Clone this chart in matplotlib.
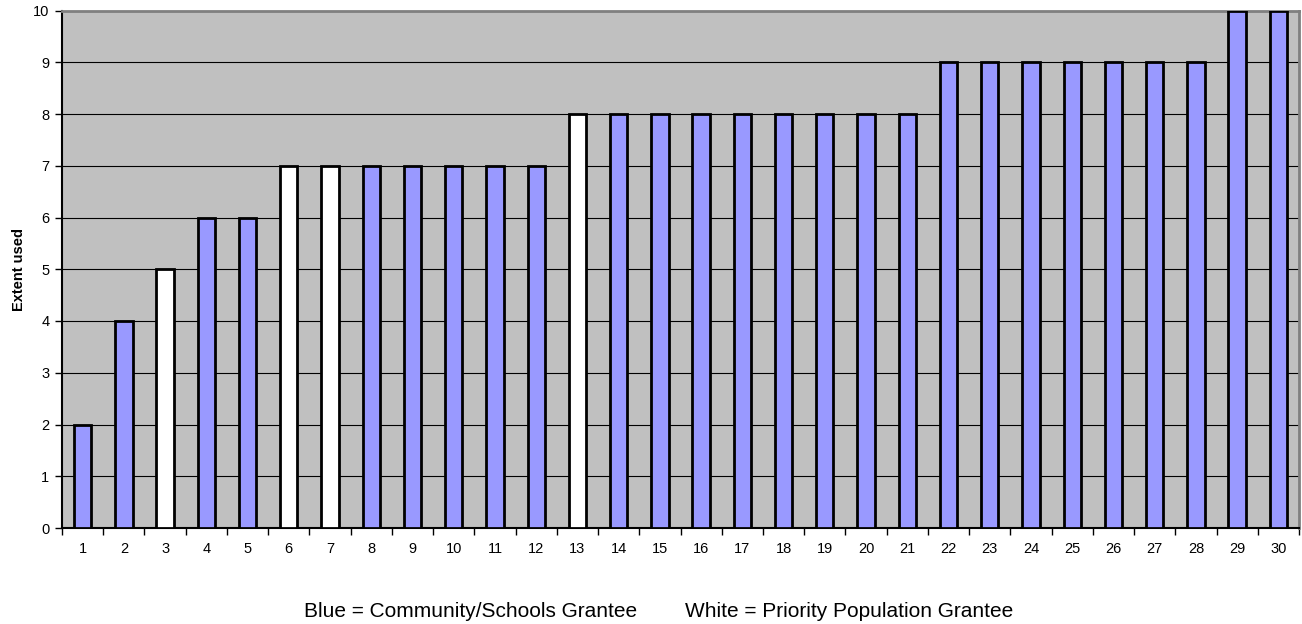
import numpy as np
import matplotlib.pyplot as plt

plt.rcParams['font.family'] = ['Liberation Sans', 'DejaVu Sans']

# grantee number, extent used, and grantee type
grantees = list(range(1, 31))
extent = [2, 4, 5, 6, 6, 7, 7, 7, 7, 7, 7, 7, 8, 8, 8, 8, 8, 8, 8, 8, 8,
          9, 9, 9, 9, 9, 9, 9, 10, 10]
kind = ['blue', 'blue', 'white', 'blue', 'blue', 'white', 'white', 'blue',
        'blue', 'blue', 'blue', 'blue', 'white', 'blue', 'blue', 'blue',
        'blue', 'blue', 'blue', 'blue', 'blue', 'blue', 'blue', 'blue',
        'blue', 'blue', 'blue', 'blue', 'blue', 'blue']
y_ticks = list(range(0, 11))

colors = {'blue': '#9999FF', 'white': '#FFFFFF'}

W, H = 1302, 624
fig = plt.figure(figsize=(W / 100, H / 100), dpi=100)
ax = fig.add_axes([62 / W, 1 - 528 / H, (1299 - 62) / W, (528 - 10.5) / H])
ax.set_facecolor('#C0C0C0')

x = np.arange(len(grantees))
ax.bar(x, extent, width=0.42, color=[colors[k] for k in kind],
       edgecolor='black', linewidth=2, zorder=3)

ax.set_xlim(-0.5, len(grantees) - 0.5)
ax.set_ylim(0, 10)
ax.set_yticks(y_ticks)
ax.set_yticklabels([str(v) for v in y_ticks], fontsize=10.5)
ax.yaxis.grid(True, color='black', linewidth=0.8, zorder=1)

# category labels centred, tick marks between categories
ax.set_xticks(x)
ax.set_xticklabels([str(g) for g in grantees], fontsize=10.5)
ax.tick_params(axis='x', length=0, pad=10)
ax.set_xticks(np.arange(-0.5, len(grantees)), minor=True)
ax.tick_params(axis='x', which='minor', length=5, width=1, direction='out')
ax.tick_params(axis='y', length=5, width=1, direction='out', pad=4)

for side in ['top', 'right']:
    ax.spines[side].set_color('#808080')
    ax.spines[side].set_linewidth(2)
for side in ['left', 'bottom']:
    ax.spines[side].set_color('black')
    ax.spines[side].set_linewidth(1.5)

ax.set_ylabel('Extent used', fontsize=10.5, fontweight='bold', labelpad=5)

fig.text(304 / W, 1 - 617 / H, 'Blue = Community/Schools Grantee',
         ha='left', va='baseline', fontsize=15)
fig.text(685 / W, 1 - 617 / H, 'White = Priority Population Grantee',
         ha='left', va='baseline', fontsize=15)

fig.savefig('out.png', dpi=100)
